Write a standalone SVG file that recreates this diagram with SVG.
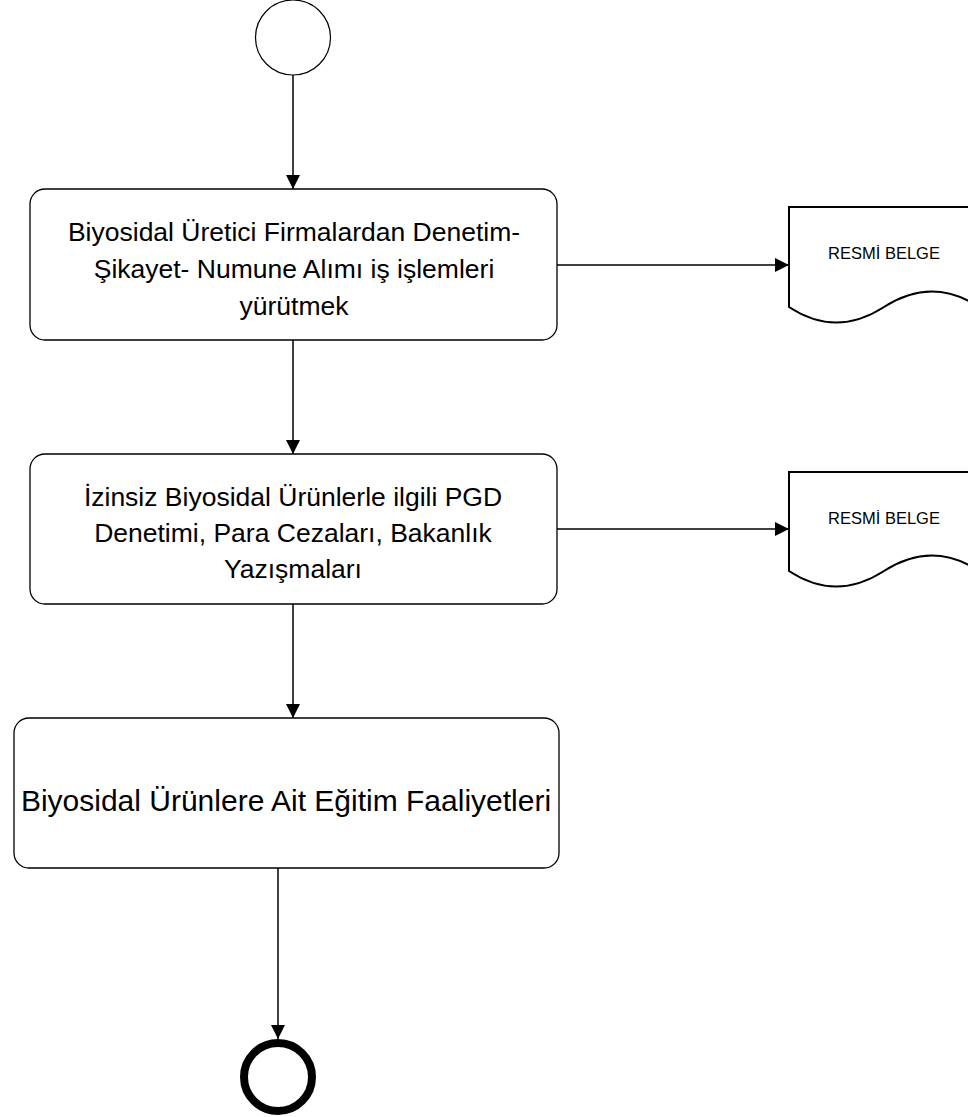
<svg xmlns="http://www.w3.org/2000/svg" width="968" height="1117" viewBox="0 0 968 1117">
<style>
  .box { fill: #ffffff; stroke: #000000; stroke-width: 1.3; }
  .doc { fill: #ffffff; stroke: #000000; stroke-width: 2; }
  .lbl { font-family: "Liberation Sans", Arial, sans-serif; font-size: 26.5px; fill: #000000; text-anchor: middle; }
  .big { font-size: 30px; }
  .doclbl { font-family: "Liberation Sans", Arial, sans-serif; font-size: 16.5px; fill: #000000; text-anchor: middle; }
  .edge { fill: none; stroke: #000000; stroke-width: 1.5; }
</style>
<defs>
  <marker id="arr" markerUnits="userSpaceOnUse" markerWidth="16" markerHeight="14" refX="14" refY="7" orient="auto">
    <path d="M0,0 L14,7 L0,14 Z" fill="#000000"/>
  </marker>
</defs>
<rect width="968" height="1117" fill="#ffffff"/>

<g id="start">
  <circle cx="293" cy="37.5" r="37.5" fill="#ffffff" stroke="#000000" stroke-width="1.2"/>
</g>

<g id="task1">
  <rect class="box" x="30" y="189" width="527" height="151" rx="15" ry="15"/>
  <text class="lbl" x="294" y="241">Biyosidal Üretici Firmalardan Denetim-</text>
  <text class="lbl" x="294" y="278">Şikayet- Numune Alımı iş işlemleri</text>
  <text class="lbl" x="294" y="315">yürütmek</text>
</g>

<g id="doc1">
  <path class="doc" d="M789,307 L789,207 L979,207 L979,307 Q932,276 884,307 Q836,338 789,307 Z"/>
  <text class="doclbl" x="884" y="259">RESMİ BELGE</text>
</g>

<g id="task2">
  <rect class="box" x="30" y="454" width="527" height="150" rx="15" ry="15"/>
  <text class="lbl" x="293" y="506">İzinsiz Biyosidal Ürünlerle ilgili PGD</text>
  <text class="lbl" x="293" y="542">Denetimi, Para Cezaları, Bakanlık</text>
  <text class="lbl" x="293" y="578">Yazışmaları</text>
</g>

<g id="doc2">
  <path class="doc" d="M789,571 L789,472 L979,472 L979,571 Q932,540 884,571 Q836,602 789,571 Z"/>
  <text class="doclbl" x="884" y="524">RESMİ BELGE</text>
</g>

<g id="task3">
  <rect class="box" x="14" y="718" width="545" height="150" rx="15" ry="15"/>
  <text class="lbl big" x="286" y="811">Biyosidal Ürünlere Ait Eğitim Faaliyetleri</text>
</g>

<g id="end">
  <circle cx="278" cy="1077" r="34" fill="#ffffff" stroke="#000000" stroke-width="8"/>
</g>

<g id="connectors">
  <line class="edge" x1="293" y1="75" x2="293" y2="189" marker-end="url(#arr)"/>
  <line class="edge" x1="557" y1="265" x2="789" y2="265" marker-end="url(#arr)"/>
  <line class="edge" x1="293" y1="340" x2="293" y2="454" marker-end="url(#arr)"/>
  <line class="edge" x1="557" y1="529" x2="789" y2="529" marker-end="url(#arr)"/>
  <line class="edge" x1="293" y1="604" x2="293" y2="718" marker-end="url(#arr)"/>
  <line class="edge" x1="278" y1="868" x2="278" y2="1039" marker-end="url(#arr)"/>
</g>
</svg>
